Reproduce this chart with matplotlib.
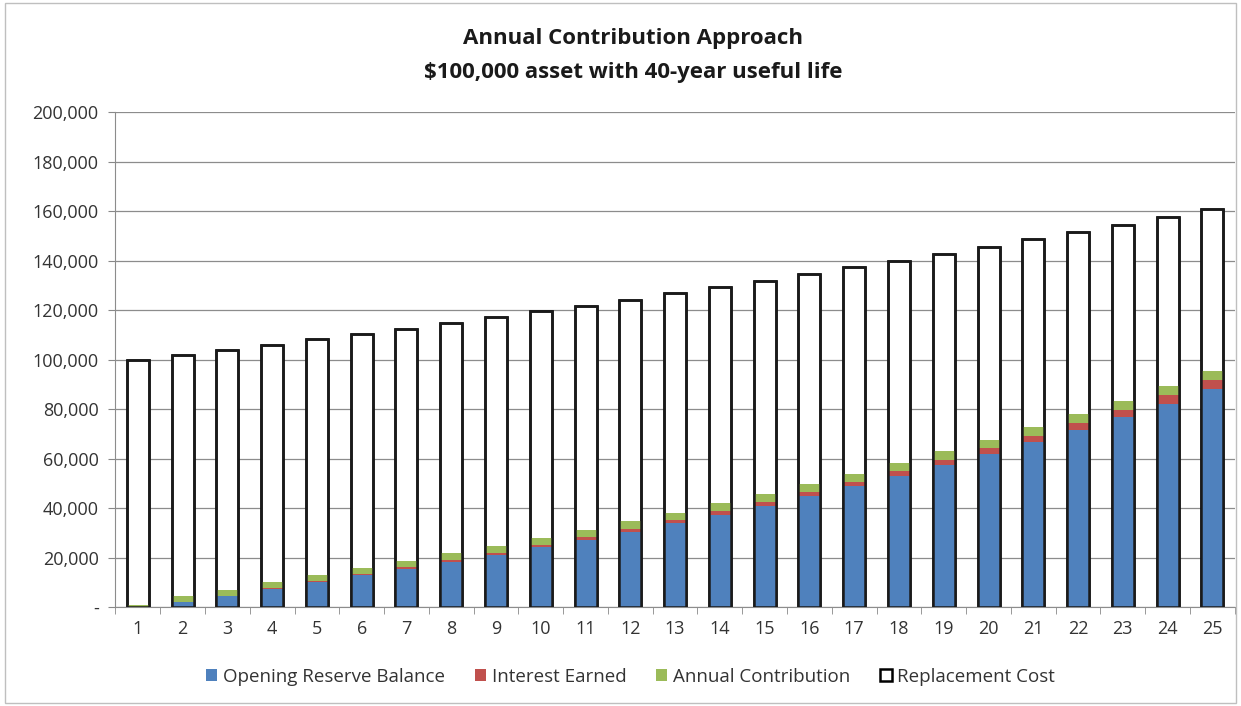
import numpy as np
import matplotlib.pyplot as plt
from matplotlib.ticker import FuncFormatter
from matplotlib.patches import Rectangle

years = list(range(1, 26))

# values
replacement_cost = [100000, 102000, 104000, 106100, 108200, 110400, 112600, 114900,
                    117200, 119500, 121900, 124300, 126800, 129400, 131900, 134600,
                    137300, 140000, 142800, 145700, 148600, 151600, 154600, 157700,
                    160800]
opening_balance = [0, 2000, 4500, 7300, 10000, 12800, 15500, 18300, 21200, 24200,
                   27300, 30500, 33900, 37400, 41000, 44800, 48800, 52900, 57300,
                   61800, 66600, 71600, 76800, 82300, 88100]
interest_earned = [0, 80, 180, 290, 400, 510, 620, 730, 850, 970, 1090, 1220, 1360,
                   1500, 1640, 1790, 1950, 2120, 2290, 2470, 2660, 2860, 3070, 3290,
                   3520]
annual_contribution = [800, 2400, 2450, 2500, 2550, 2600, 2650, 2700, 2760, 2810,
                       2870, 2920, 2980, 3040, 3100, 3160, 3230, 3290, 3360, 3420,
                       3490, 3560, 3630, 3700, 3780]

BLUE = '#4F81BD'
RED = '#C0504D'
GREEN = '#9BBB59'

plt.rcParams['font.family'] = ['Open Sans', 'DejaVu Sans']

fig = plt.figure(figsize=(12.41, 7.06), dpi=100)
ax = fig.add_axes([0.093, 0.140, 0.902, 0.701])

x = np.array(years)
w = 0.49
ob = np.array(opening_balance)
ie = np.array(interest_earned)
ac = np.array(annual_contribution)

ax.bar(x, replacement_cost, width=w, color='white', edgecolor='black', linewidth=1.8,
       zorder=2, label='Replacement Cost')
ax.bar(x, ob, width=w, color=BLUE, zorder=3, label='Opening Reserve Balance')
ax.bar(x, ie, width=w, bottom=ob, color=RED, zorder=3, label='Interest Earned')
ax.bar(x, ac, width=w, bottom=ob + ie, color=GREEN, zorder=3, label='Annual Contribution')
# redraw outline on top of the fills
ax.bar(x, replacement_cost, width=w, fill=False, edgecolor='#1a1a1a', linewidth=1.8,
       zorder=4)

ax.set_xlim(0.5, 25.5)
ax.set_ylim(0, 200000)
ax.set_yticks(np.arange(0, 200001, 20000))
ax.yaxis.set_major_formatter(FuncFormatter(lambda v, p: '-' if v == 0 else f'{int(v):,}'))
ax.set_xticks(x)
ax.set_xticks(np.arange(0.5, 25.6, 1), minor=True)
ax.tick_params(axis='x', which='major', length=0, pad=9, labelsize=13, colors='#333333')
ax.tick_params(axis='x', which='minor', length=5, color='#888888')
ax.tick_params(axis='y', length=5, color='#888888', labelsize=13, labelcolor='#333333',
               pad=7)

ax.grid(axis='y', color='#8c8c8c', linewidth=0.9, zorder=0)
for s in ['top', 'right']:
    ax.spines[s].set_visible(False)
ax.spines['left'].set_color('#8c8c8c')
ax.spines['bottom'].set_color('#8c8c8c')

fig.text(0.51, 0.946, 'Annual Contribution Approach', ha='center', va='center',
         fontsize=16, fontweight='bold', color='#1a1a1a')
fig.text(0.51, 0.897, '$100,000 asset with 40-year useful life', ha='center',
         va='center', fontsize=16, fontweight='bold', color='#1a1a1a')

handles, labels = ax.get_legend_handles_labels()
order = [1, 2, 3, 0]
fig.legend([handles[i] for i in order], [labels[i] for i in order],
           loc='center', bbox_to_anchor=(0.508, 0.041), ncol=4, frameon=False,
           fontsize=13.5, handlelength=0.6, handleheight=0.6, handletextpad=0.3,
           columnspacing=1.6, labelcolor='#333333')

fig.patches.append(Rectangle((0.004, 0.004), 0.992, 0.992, transform=fig.transFigure,
                             fill=False, edgecolor='#bfbfbf', linewidth=1))

fig.savefig('out.png', dpi=100)
